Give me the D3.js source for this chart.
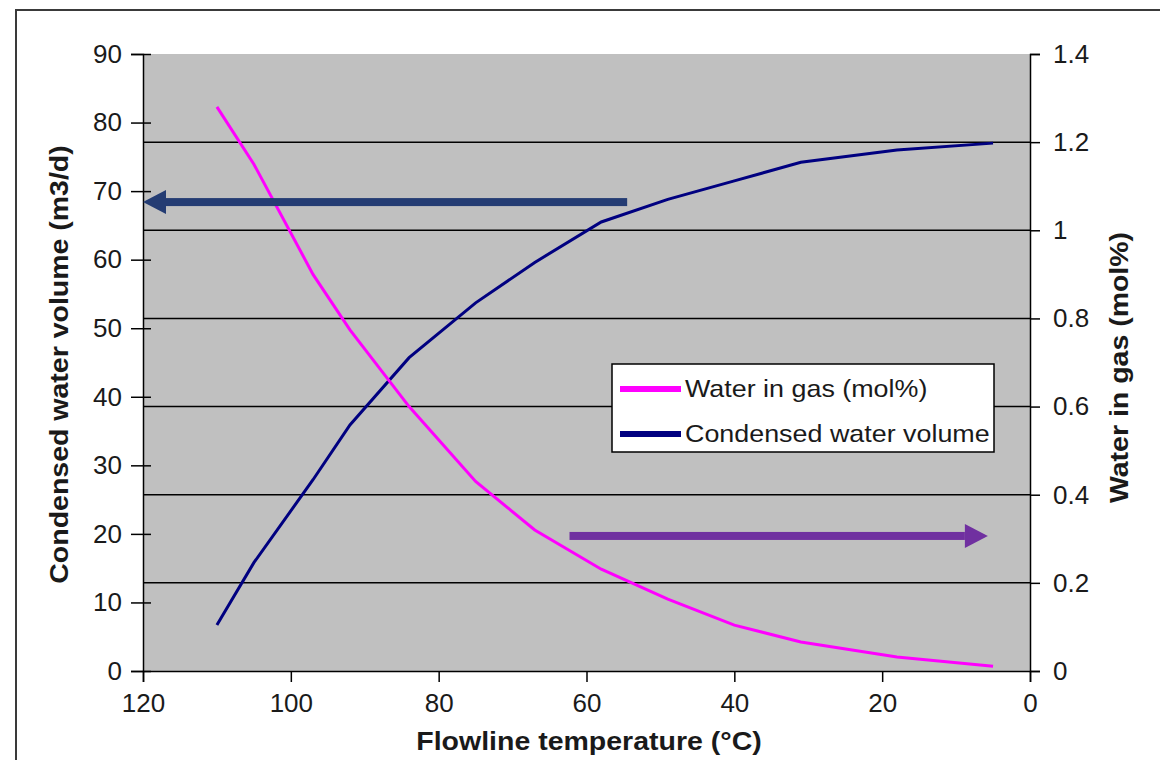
<!DOCTYPE html>
<html>
<head>
<meta charset="utf-8">
<script src="https://cdn.jsdelivr.net/npm/d3@7/dist/d3.min.js"></script>
<style>
  html, body { margin: 0; padding: 0; background: #fff; }
  text { font-family: "Liberation Sans", Arial, sans-serif; fill: #1a1a1a; }
</style>
</head>
<body>
<div id="chart"></div>
<script>
// Flowline temperature (°C), shared by both series
var temperatures = [110, 105, 97, 92, 84, 75, 67, 58, 49, 40, 31, 18, 5];
// Water in gas (mol%) -> right axis
var waterInGas = [1.28, 1.15, 0.90, 0.774, 0.60, 0.43, 0.32, 0.231, 0.163, 0.104, 0.066, 0.032, 0.011];
// Condensed water volume (m3/d) -> left axis
var condensedVolume = [6.7, 15.8, 27.9, 35.9, 45.7, 53.7, 59.6, 65.5, 68.8, 71.5, 74.2, 76.0, 77.0];

var xTicks = [120, 100, 80, 60, 40, 20, 0];
var leftTicks = [0, 10, 20, 30, 40, 50, 60, 70, 80, 90];
var rightTicks = [0, 0.2, 0.4, 0.6, 0.8, 1, 1.2, 1.4];
var gridTicks = [0.2, 0.4, 0.6, 0.8, 1, 1.2];

var WIDTH = 1160, HEIGHT = 760;
var PLOT = {left: 143, right: 1030, top: 54, bottom: 671};
var STRETCH = 1.12; // the original lettering is a touch wider than Arial

var x = d3.scaleLinear().domain([120, 0]).range([PLOT.left, PLOT.right]);
var yL = d3.scaleLinear().domain([0, 90]).range([PLOT.bottom, PLOT.top]);
var yR = d3.scaleLinear().domain([0, 1.4]).range([PLOT.bottom, PLOT.top]);

var svg = d3.select('#chart').append('svg')
    .attr('width', WIDTH)
    .attr('height', HEIGHT);

// outer frame (only left and top edges visible)
svg.append('path')
    .attr('d', 'M16,' + HEIGHT + 'V10H' + WIDTH)
    .style('fill', 'none')
    .style('stroke', '#3a3a3a')
    .style('stroke-width', 2);

// plot area
svg.append('rect')
    .attr('x', PLOT.left).attr('y', PLOT.top)
    .attr('width', PLOT.right - PLOT.left)
    .attr('height', PLOT.bottom - PLOT.top)
    .style('fill', '#c0c0c0');

// gridlines follow the right axis
svg.append('g').selectAll('line').data(gridTicks).enter()
    .append('line')
    .attr('x1', PLOT.left).attr('x2', PLOT.right)
    .attr('y1', function(d) { return yR(d); })
    .attr('y2', function(d) { return yR(d); })
    .style('stroke', '#000')
    .style('stroke-width', 1.5);

var styleAxis = function(g) {
    g.select('.domain').style('stroke', '#000').style('stroke-width', 1.5);
    g.selectAll('.tick line').style('stroke', '#000').style('stroke-width', 1.5);
    g.selectAll('.tick text').style('font-size', '26px').attr('fill', '#1a1a1a');
};

// left axis - ticks cross the axis line
var gLeft = svg.append('g')
    .attr('transform', 'translate(' + PLOT.left + ',0)')
    .call(d3.axisLeft(yL).tickValues(leftTicks).tickSizeOuter(0).tickSize(12).tickPadding(9))
    .call(styleAxis);
gLeft.selectAll('.tick line').attr('x1', 8);

var gRight = svg.append('g')
    .attr('transform', 'translate(' + PLOT.right + ',0)')
    .call(d3.axisRight(yR).tickValues(rightTicks).tickSizeOuter(0).tickSize(10).tickPadding(13)
        .tickFormat(function(d) { return String(+d.toFixed(1)); }))
    .call(styleAxis);

var gBottom = svg.append('g')
    .attr('transform', 'translate(0,' + PLOT.bottom + ')')
    .call(d3.axisBottom(x).tickValues(xTicks).tickSizeOuter(0).tickSize(11).tickPadding(12))
    .call(styleAxis);

// series
var line = function(yScale, values) {
    return d3.line()
        .x(function(d, i) { return x(temperatures[i]); })
        .y(function(d) { return yScale(d); })(values);
};

svg.append('path')
    .attr('d', line(yL, condensedVolume))
    .style('fill', 'none')
    .style('stroke', '#000080')
    .style('stroke-width', 3);

svg.append('path')
    .attr('d', line(yR, waterInGas))
    .style('fill', 'none')
    .style('stroke', '#ff00ff')
    .style('stroke-width', 3);

// arrows pointing at the axis each series belongs to
var drawArrow = function(fromT, toT, level, color) {
    var x0 = x(fromT), x1 = x(toT), y = yL(level);
    var dir = x1 > x0 ? 1 : -1;
    var headLen = 23, headHalf = 12, body = 4;
    svg.append('rect')
        .attr('x', Math.min(x0, x1 - dir * headLen))
        .attr('y', y - body)
        .attr('width', Math.abs(x1 - dir * headLen - x0))
        .attr('height', body * 2)
        .style('fill', color);
    svg.append('path')
        .attr('d', 'M' + x1 + ',' + y +
            'L' + (x1 - dir * headLen) + ',' + (y - headHalf) +
            'L' + (x1 - dir * headLen) + ',' + (y + headHalf) + 'Z')
        .style('fill', color);
};
drawArrow(54.5, 120, 68.4, '#243c73');
drawArrow(62.3, 5.7, 19.7, '#7030a0');

// legend
var legend = svg.append('g').attr('transform', 'translate(612,364)');
legend.append('rect')
    .attr('width', 382).attr('height', 88)
    .style('fill', '#fff')
    .style('stroke', '#000')
    .style('stroke-width', 1.5);
var legendItems = [
    {label: 'Water in gas (mol%)', color: '#ff00ff', y: 25},
    {label: 'Condensed water volume', color: '#000080', y: 70}
];
legendItems.forEach(function(it) {
    legend.append('line')
        .attr('x1', 8).attr('x2', 69)
        .attr('y1', it.y).attr('y2', it.y)
        .style('stroke', it.color)
        .style('stroke-width', 6);
    legend.append('text')
        .attr('transform', 'translate(73,' + it.y + ') scale(' + STRETCH + ',1)')
        .attr('dy', '0.35em')
        .style('font-size', '24px')
        .text(it.label);
});

// axis titles
var title = function(tx, ty, rot, label) {
    svg.append('text')
        .attr('transform', 'translate(' + tx + ',' + ty + ')' + (rot ? ' rotate(-90)' : '') +
            ' scale(' + 1.14 + ',1)')
        .attr('text-anchor', 'middle')
        .style('font-size', '25px')
        .style('font-weight', 'bold')
        .text(label);
};
var midY = (PLOT.top + PLOT.bottom) / 2 + 2;
title(589, 750, false, 'Flowline temperature (°C)');
title(68, midY, true, 'Condensed water volume (m3/d)');
title(1128, midY + 3, true, 'Water in gas (mol%)');
</script>
</body>
</html>
